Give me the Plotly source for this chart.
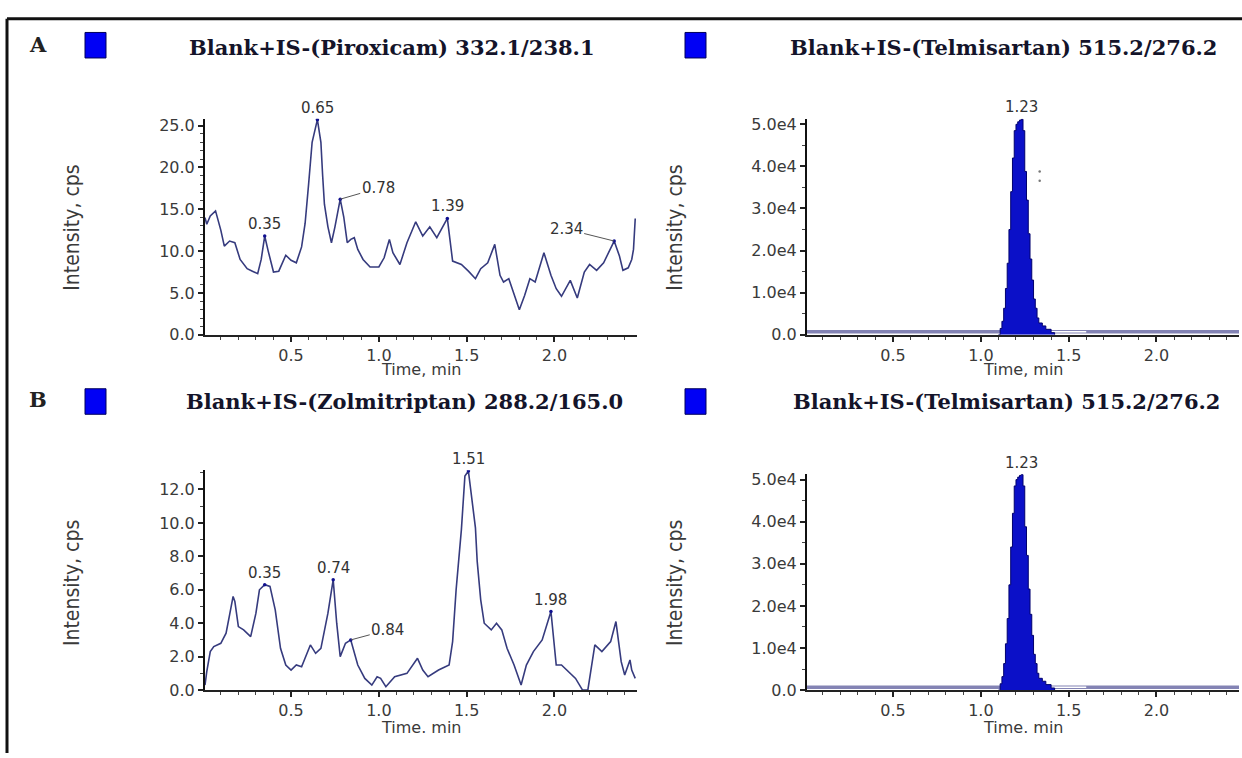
import plotly.graph_objects as go

W, H = 1242, 758

# ---- Panel A, left: Piroxicam channel 332.1/238.1 ----
pir_time = [0.01, 0.02, 0.04, 0.07, 0.10, 0.12, 0.15, 0.18, 0.21, 0.25, 0.28, 0.31, 0.33, 0.35, 0.37,
            0.40, 0.43, 0.47, 0.50, 0.53, 0.56, 0.58, 0.60, 0.62, 0.65, 0.67, 0.68, 0.69, 0.71, 0.73,
            0.75, 0.78, 0.80, 0.82, 0.84, 0.86, 0.88, 0.91, 0.95, 1.00, 1.03, 1.06, 1.08, 1.12, 1.16,
            1.21, 1.25, 1.29, 1.33, 1.39, 1.42, 1.47, 1.51, 1.55, 1.58, 1.62, 1.66, 1.69, 1.71, 1.74,
            1.80, 1.83, 1.86, 1.89, 1.94, 1.98, 2.01, 2.04, 2.09, 2.13, 2.17, 2.20, 2.24, 2.28, 2.34,
            2.37, 2.39, 2.42, 2.44, 2.45, 2.46]
pir_int = [14.0, 13.2, 14.2, 14.8, 12.5, 10.6, 11.2, 11.0, 9.0, 7.9, 7.6, 7.3, 9.0, 11.8, 10.0,
           7.5, 7.6, 9.5, 8.9, 8.6, 10.5, 13.3, 18.0, 23.0, 25.7, 23.0, 19.0, 15.6, 12.9, 11.0,
           12.9, 16.2, 14.1, 11.0, 11.4, 11.6, 10.2, 9.0, 8.1, 8.1, 9.2, 11.4, 9.8, 8.4, 11.0,
           13.5, 11.8, 12.9, 11.6, 13.9, 8.8, 8.4, 7.6, 6.7, 7.9, 8.6, 10.8, 7.1, 6.3, 6.7,
           3.0, 4.7, 6.7, 6.3, 9.8, 7.1, 5.5, 4.6, 6.5, 4.4, 7.5, 8.4, 7.7, 8.6, 11.2,
           9.4, 7.7, 8.0, 9.0, 10.2, 13.9]
pir_peaks = [0.35, 0.65, 0.78, 1.39, 2.34]

# ---- Panel B, left: Zolmitriptan channel 288.2/165.0 ----
zol_time = [0.01, 0.02, 0.04, 0.06, 0.10, 0.13, 0.15, 0.17, 0.18, 0.20, 0.23, 0.27, 0.30, 0.32, 0.35,
            0.38, 0.41, 0.44, 0.47, 0.50, 0.53, 0.56, 0.61, 0.64, 0.67, 0.71, 0.74, 0.76, 0.78, 0.81,
            0.84, 0.88, 0.92, 0.96, 0.99, 1.01, 1.04, 1.09, 1.16, 1.22, 1.25, 1.28, 1.34, 1.40, 1.42,
            1.44, 1.47, 1.49, 1.51, 1.53, 1.55, 1.56, 1.58, 1.60, 1.64, 1.67, 1.70, 1.73, 1.77, 1.81,
            1.84, 1.88, 1.93, 1.98, 2.01, 2.04, 2.08, 2.12, 2.16, 2.19, 2.23, 2.27, 2.32, 2.35, 2.38,
            2.40, 2.43, 2.44, 2.46]
zol_int = [0.3, 1.1, 2.3, 2.6, 2.8, 3.4, 4.5, 5.6, 5.3, 3.8, 3.6, 3.2, 4.6, 6.0, 6.3,
           6.2, 4.8, 2.5, 1.5, 1.2, 1.5, 1.4, 2.7, 2.2, 2.5, 4.6, 6.6, 4.0, 2.0, 2.8,
           3.0, 1.5, 0.7, 0.3, 0.8, 0.7, 0.2, 0.8, 1.0, 1.9, 1.2, 0.8, 1.2, 1.5, 2.9,
           6.0, 9.6, 12.8, 13.1, 11.5, 9.7, 7.7, 5.4, 4.0, 3.6, 4.0, 3.6, 2.5, 1.5, 0.3,
           1.5, 2.3, 3.0, 4.7, 1.5, 1.5, 1.1, 0.7, 0.0, 0.0, 2.7, 2.3, 2.9, 4.1, 1.7,
           0.9, 1.8, 1.2, 0.7]
zol_peaks = [0.35, 0.74, 0.84, 1.51, 1.98]

# ---- Right panels: Telmisartan (IS) channel 515.2/276.2 ----
tel_time = [1.10, 1.11, 1.12, 1.13, 1.14, 1.15, 1.16, 1.17, 1.18, 1.19, 1.20, 1.21, 1.22, 1.23,
            1.24, 1.25, 1.26, 1.27, 1.28, 1.29, 1.30, 1.31, 1.32, 1.33, 1.35, 1.37, 1.40, 1.42]
tel_int = [0, 1500, 3200, 6300, 11000, 17000, 25000, 34000, 42000, 48500, 50000, 50600, 51000, 51200,
           48500, 38800, 32000, 24000, 18000, 13000, 8500, 6300, 4000, 2800, 2100, 1300, 500, 0]
tel_peak = 1.23
tel_base_time = [0.01, 2.47]
tel_base_int = [700, 700]
tel_gap_time = [1.30, 1.60]
tel_gap_int = [700, 700]
tel_dot_time = [1.335, 1.335]
tel_dot_int = [38800, 36600]

# axis ticks
tel_tickvals = [0, 10000, 20000, 30000, 40000, 50000]
tel_ticktext = ["0.0", "1.0e4", "2.0e4", "3.0e4", "4.0e4", "5.0e4"]
time_range = [0.01, 2.47]

TRACE = "#363b7e"
TICK_FONT = dict(family="DejaVu Sans, Verdana, sans-serif", size=16, color="#3a3a3a")
LABEL_FONT = dict(family="DejaVu Sans, Verdana, sans-serif", size=15, color="#333333")


def px(x):
    return x / W


def py(y):
    return 1 - y / H


fig = go.Figure()

# chromatogram traces
fig.add_trace(go.Scatter(x=pir_time, y=pir_int, mode="lines", line=dict(color=TRACE, width=1.6),
                         xaxis="x", yaxis="y", hoverinfo="skip"))
fig.add_trace(go.Scatter(x=zol_time, y=zol_int, mode="lines", line=dict(color=TRACE, width=1.6),
                         xaxis="x3", yaxis="y3", hoverinfo="skip"))

for xa, ya in (("x2", "y2"), ("x4", "y4")):
    fig.add_trace(go.Scatter(x=tel_base_time, y=tel_base_int, mode="lines",
                             line=dict(color="#8383b4", width=3.5), xaxis=xa, yaxis=ya, hoverinfo="skip"))
    fig.add_trace(go.Scatter(x=tel_gap_time, y=tel_gap_int, mode="lines",
                             line=dict(color="#ffffff", width=1.5), xaxis=xa, yaxis=ya, hoverinfo="skip"))
    fig.add_trace(go.Scatter(x=tel_time, y=tel_int, mode="lines", line=dict(color="#00006e", width=1, shape="hv"),
                             fill="tozeroy", fillcolor="#0b10c8", xaxis=xa, yaxis=ya, hoverinfo="skip"))

fig.add_trace(go.Scatter(x=tel_dot_time, y=tel_dot_int, mode="markers",
                         marker=dict(color="#777777", size=2.5), xaxis="x2", yaxis="y2", hoverinfo="skip"))


def value_at(times, ints, t):
    return ints[times.index(t)]


# peak apex markers
pir_pk_y = [value_at(pir_time, pir_int, t) for t in pir_peaks]
zol_pk_y = [value_at(zol_time, zol_int, t) for t in zol_peaks]
tel_pk_y = value_at(tel_time, tel_int, tel_peak)
fig.add_trace(go.Scatter(x=pir_peaks, y=pir_pk_y, mode="markers", marker=dict(color="#101090", size=3.5),
                         xaxis="x", yaxis="y", hoverinfo="skip"))
fig.add_trace(go.Scatter(x=zol_peaks, y=zol_pk_y, mode="markers", marker=dict(color="#101090", size=3.5),
                         xaxis="x3", yaxis="y3", hoverinfo="skip"))

annotations = []

# leader-line offsets (pixels) for labels drawn beside their peak
leaders = {("x", 0.78): (38, -11), ("x", 2.34): (-48, -12), ("x3", 0.84): (37, -10)}


def peak_labels(xa, ya, times, values):
    for t, v in zip(times, values):
        key = (xa, t)
        if key in leaders:
            ax, ay = leaders[key]
            annotations.append(dict(x=t, y=v, xref=xa, yref=ya, text=f"{t:.2f}", showarrow=True,
                                    arrowhead=0, arrowwidth=1, arrowcolor="#555555", ax=ax, ay=ay,
                                    standoff=0, font=LABEL_FONT))
        else:
            annotations.append(dict(x=t, y=v, xref=xa, yref=ya, text=f"{t:.2f}", showarrow=False,
                                    xanchor="center", yanchor="bottom", yshift=1, font=LABEL_FONT))


peak_labels("x", "y", pir_peaks, pir_pk_y)
peak_labels("x3", "y3", zol_peaks, zol_pk_y)
peak_labels("x2", "y2", [tel_peak], [tel_pk_y])
peak_labels("x4", "y4", [tel_peak], [tel_pk_y])


def paper_text(xc, yc, txt, font, angle=0):
    annotations.append(dict(x=px(xc), y=py(yc), xref="paper", yref="paper", text=txt, showarrow=False,
                            xanchor="center", yanchor="middle", textangle=angle, font=font))


# axis titles
AXT_FONT = dict(family="DejaVu Sans, Verdana, sans-serif", size=16, color="#3a3a3a")
for xc, yc, txt in ((421, 372, "Time, min"), (1023, 372, "Time, min"),
                    (421, 737, "Time. min"), (1023, 737, "Time. min")):
    paper_text(xc, yc, txt, AXT_FONT)
INT_FONT = dict(family="Liberation Sans Narrow, DejaVu Sans Condensed, sans-serif", size=21, color="#3a3a3a")
for xc, yc in ((72, 228), (675, 228), (72, 590), (675, 590)):
    paper_text(xc, yc, "Intensity, cps", INT_FONT, angle=-90)

# panel headers
TITLE_FONT = dict(family="DejaVu Serif, Liberation Serif, serif", size=21, color="#14142a", weight="bold")
for xc, yc, txt in ((392, 44, "Blank+IS-(Piroxicam) 332.1/238.1"),
                    (1003, 44, "Blank+IS-(Telmisartan) 515.2/276.2"),
                    (404, 405, "Blank+IS-(Zolmitriptan) 288.2/165.0"),
                    (1006, 405, "Blank+IS-(Telmisartan) 515.2/276.2")):
    paper_text(xc, yc, txt, TITLE_FONT)
PANEL_FONT = dict(family="DejaVu Serif, Liberation Serif, serif", size=21, color="#222222", weight="bold")
for yc, txt in ((41, "A"), (403, "B")):
    paper_text(38, yc, txt, PANEL_FONT)

shapes = []
for x0, y0 in ((85, 29), (685, 29), (85, 392), (685, 392)):
    shapes.append(dict(type="rect", xref="paper", yref="paper", x0=px(x0), x1=px(x0 + 21),
                       y0=py(y0 + 26), y1=py(y0), fillcolor="#0000f5", line=dict(color="#00005a", width=1)))
# frame
shapes.append(dict(type="line", xref="paper", yref="paper", x0=px(7), x1=px(W + 5), y0=py(15), y1=py(15),
                   line=dict(color="#111111", width=3)))
shapes.append(dict(type="line", xref="paper", yref="paper", x0=px(7), x1=px(7), y0=py(15), y1=py(H + 5),
                   line=dict(color="#111111", width=3)))


def xaxis_style(dom):
    return dict(domain=dom, range=time_range, showline=True, linecolor="#222222", linewidth=1.5,
                ticks="outside", ticklen=5, tickwidth=1.5, tickcolor="#222222", tick0=0, dtick=0.5,
                tickformat=".1f", showgrid=False, zeroline=False, tickfont=TICK_FONT, fixedrange=True,
                minor=dict(dtick=0.1, tick0=0, ticks="outside", ticklen=3, tickcolor="#444444",
                           tickwidth=1, showgrid=False))


def yaxis_style(dom, rng, dtick, mdtick, xa):
    return dict(domain=dom, range=rng, anchor=xa, showline=True, linecolor="#111111", linewidth=2,
                ticks="outside", ticklen=5, tickwidth=1.5, tickcolor="#222222", tick0=0, dtick=dtick,
                tickformat=".1f", showgrid=False, zeroline=False, tickfont=TICK_FONT, fixedrange=True,
                minor=dict(dtick=mdtick, tick0=0, ticks="outside", ticklen=3, tickcolor="#444444",
                           tickwidth=1, showgrid=False))


left_dom = [px(205), px(637)]
right_dom = [px(807), px(1239)]
top_dom = [py(337), py(117)]
bot_dom = [py(699), py(475)]
bot_r_dom = [py(699), py(479)]

layout = dict(
    width=W, height=H, autosize=False, margin=dict(l=0, r=0, t=0, b=0),
    paper_bgcolor="white", plot_bgcolor="white", showlegend=False,
    xaxis=dict(xaxis_style(left_dom), anchor="y"),
    xaxis2=dict(xaxis_style(right_dom), anchor="y2"),
    xaxis3=dict(xaxis_style(left_dom), anchor="y3"),
    xaxis4=dict(xaxis_style(right_dom), anchor="y4"),
    yaxis=yaxis_style(top_dom, [0, 25.8], 5, 1, "x"),
    yaxis2=dict(yaxis_style(top_dom, [0, 51300], 10000, 5000, "x2"),
                tickvals=tel_tickvals, ticktext=tel_ticktext, tickmode="array"),
    yaxis3=yaxis_style(bot_dom, [0, 13.15], 2, 1, "x3"),
    yaxis4=dict(yaxis_style(bot_r_dom, [0, 51300], 10000, 5000, "x4"),
                tickvals=tel_tickvals, ticktext=tel_ticktext, tickmode="array"),
    annotations=annotations, shapes=shapes,
)
fig.update_layout(**layout)

fig.write_html("out.html", config={"displayModeBar": False})
